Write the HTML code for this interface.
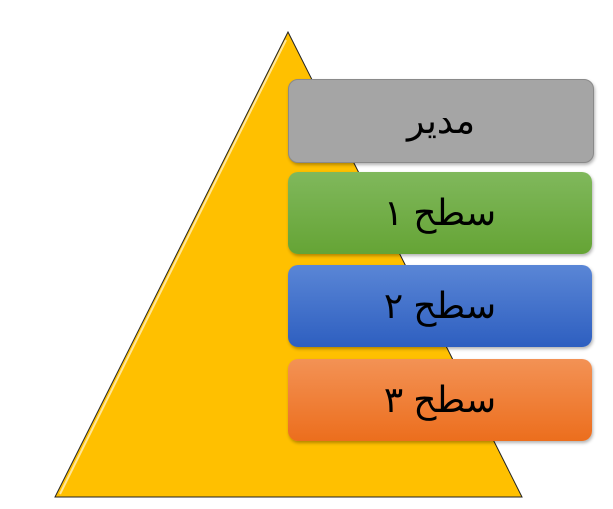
<!DOCTYPE html>
<html><head><meta charset="utf-8"><style>
body{margin:0;width:613px;height:509px;background:#fff;position:relative;overflow:hidden;font-family:"Liberation Sans","DejaVu Sans",sans-serif}
.b{position:absolute;left:288px;width:304px;height:82px;border-radius:10px;display:flex;align-items:center;justify-content:center;font-size:36px;color:#000;box-shadow:1px 2px 3px rgba(0,0,0,0.3);direction:rtl}
</style></head><body>
<svg width="613" height="509" style="position:absolute;left:0;top:0">
<polygon points="288,32 55,497 522,497" fill="#FFC000" stroke="#222" stroke-width="1"/>
<polyline points="286,40 60,494" fill="none" stroke="#FFE699" stroke-width="2"/>
</svg>
<div class="b" style="top:79px;background:#A5A5A5;border:1px solid #8a8a8a">مدیر</div>
<div class="b" style="top:172px;background:linear-gradient(#80B85C,#65A435)">سطح ۱</div>
<div class="b" style="top:265px;background:linear-gradient(#5A86D6,#2E5FC0)">سطح ۲</div>
<div class="b" style="top:359px;background:linear-gradient(#F39255,#EC6E1D)">سطح ۳</div>
</body></html>
